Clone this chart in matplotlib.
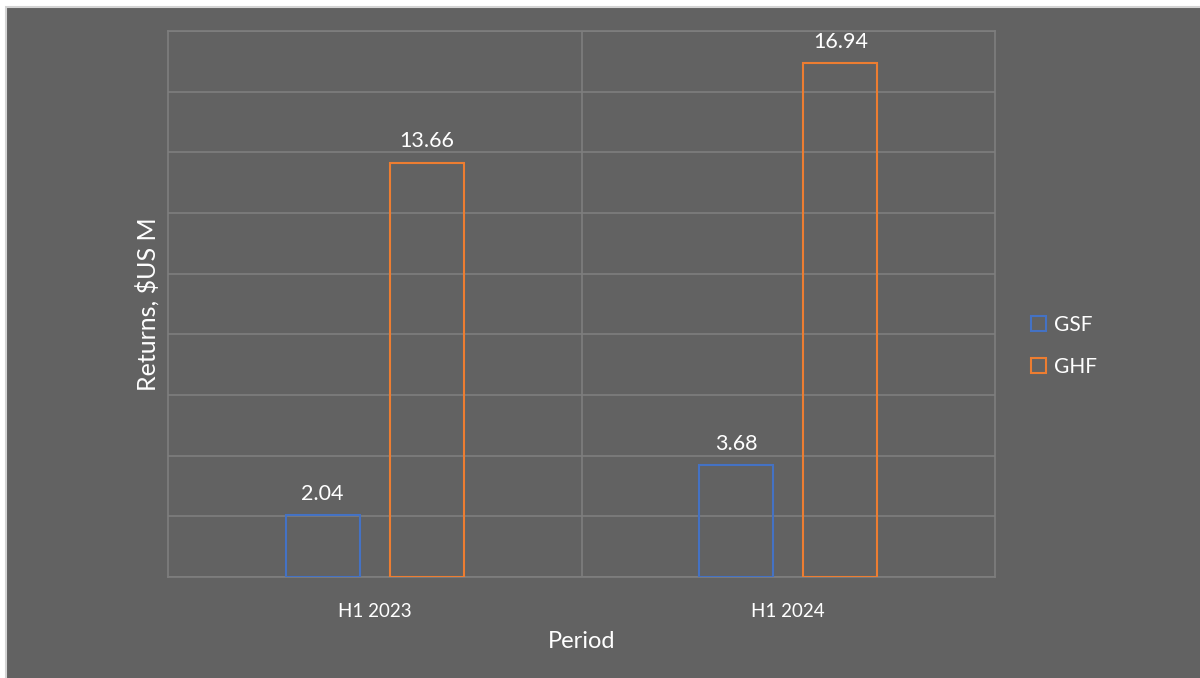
import matplotlib.pyplot as plt
import matplotlib.patches as mpatches
import numpy as np

plt.rcParams['font.family'] = ['Lato', 'DejaVu Sans']

periods = ['H1 2023', 'H1 2024']
gsf = [2.04, 3.68]
ghf = [13.66, 16.94]
series_names = ['GSF', 'GHF']

bg = '#626262'
grid_col = '#7e7e7e'
blue = '#4472C4'
orange = '#ED7D31'

fig = plt.figure(figsize=(12, 6.78), dpi=100)
fig.patch.set_facecolor('white')
# dark panel, light edge only shows at top/left
fig.patches.append(mpatches.Rectangle((6 / 1200, -0.1), 1.1, 1.1 - 7 / 678, transform=fig.transFigure,
                                      facecolor=bg, edgecolor='#d4d4d4', linewidth=1.5, zorder=-10))

ax = fig.add_axes([168 / 1200, 1 - 577 / 678, (995 - 168) / 1200, (577 - 31) / 678])
ax.set_facecolor(bg)

x = np.arange(len(periods))
w = 0.179
off = 0.126
b1 = ax.bar(x - off, gsf, w, facecolor='none', edgecolor=blue, linewidth=1.5, label=series_names[0], zorder=3)
b2 = ax.bar(x + off, ghf, w, facecolor='none', edgecolor=orange, linewidth=1.5, label=series_names[1], zorder=3)

for bars, vals in ((b1, gsf), (b2, ghf)):
    for r, v in zip(bars, vals):
        ax.text(r.get_x() + r.get_width() / 2, v + 0.38, f'{v:.2f}', ha='center', va='bottom',
                color='white', fontsize=15.5)

ax.set_xlim(-0.5, 1.5)
ax.set_ylim(0, 18)
ax.set_yticks(np.arange(0, 19, 2))
ax.yaxis.grid(True, color=grid_col, linewidth=1.2)
ax.set_xticks([0.5], minor=True)
ax.xaxis.grid(True, which='minor', color=grid_col, linewidth=1.2)
ax.set_axisbelow(True)
ax.tick_params(axis='y', length=0, labelleft=False)
ax.tick_params(axis='x', which='both', length=0, colors='white', labelsize=13.5, pad=19)
ax.set_xticks(x)
ax.set_xticklabels(periods)
for s in ax.spines.values():
    s.set_color(grid_col)
    s.set_linewidth(1.2)

ax.set_xlabel('Period', color='white', fontsize=17, labelpad=8)
ax.set_ylabel('Returns, $US M', color='white', fontsize=18, labelpad=6)

handles = [mpatches.Patch(facecolor='none', edgecolor=blue, linewidth=1.5, label=series_names[0]),
           mpatches.Patch(facecolor='none', edgecolor=orange, linewidth=1.5, label=series_names[1])]
leg = fig.legend(handles=handles, loc='center left', bbox_to_anchor=(1012 / 1200, 1 - 346 / 678),
                 frameon=False, fontsize=15, labelcolor='white', handlelength=0.75, handleheight=0.75,
                 handletextpad=0.35, labelspacing=1.05)

fig.savefig('out.png', dpi=100, facecolor=fig.get_facecolor())
